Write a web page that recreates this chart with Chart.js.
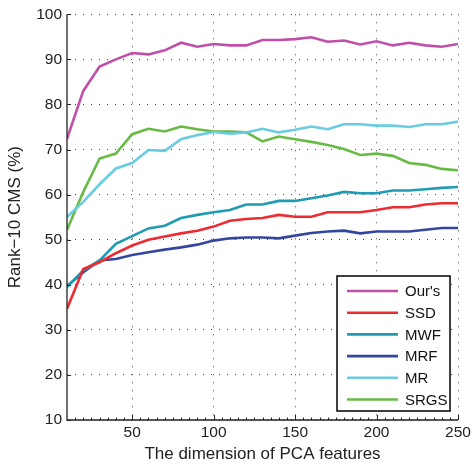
<!DOCTYPE html>
<html>
<head>
<meta charset="utf-8">
<script src="https://cdn.jsdelivr.net/npm/chart.js@4.4.0/dist/chart.umd.min.js"></script>
<style>
  html, body { margin: 0; padding: 0; background: #fff; }
  #wrap { width: 474px; height: 466px; position: relative; }
</style>
</head>
<body>
<div id="wrap"><canvas id="c"></canvas></div>
<script>
const dims = [10,20,30,40,50,60,70,80,90,100,110,120,130,140,150,160,170,180,190,200,210,220,230,240,250];
const ours = [72.4,83.0,88.4,90.0,91.4,91.1,92.0,93.7,92.8,93.4,93.1,93.1,94.3,94.3,94.5,94.9,93.9,94.2,93.3,94.0,93.1,93.7,93.1,92.8,93.4];
const ssd  = [34.7,43.5,45.0,47.0,48.7,50.0,50.7,51.4,52.0,52.9,54.2,54.6,54.8,55.5,55.1,55.1,56.1,56.1,56.1,56.6,57.2,57.2,57.8,58.1,58.1];
const mwf  = [39.5,43.2,45.4,49.1,50.8,52.5,53.1,54.8,55.5,56.1,56.6,57.8,57.8,58.6,58.6,59.2,59.8,60.6,60.3,60.3,60.9,60.9,61.2,61.5,61.7];
const mrf  = [39.7,42.8,45.4,45.7,46.6,47.2,47.8,48.3,48.9,49.8,50.3,50.5,50.5,50.3,50.9,51.5,51.8,52.0,51.4,51.8,51.8,51.8,52.2,52.6,52.6];
const mr   = [55.0,58.4,62.3,65.8,67.0,69.9,69.7,72.3,73.2,73.9,73.5,73.8,74.6,73.8,74.4,75.1,74.5,75.6,75.6,75.3,75.3,75.0,75.6,75.6,76.2];
const srgs = [52.2,60.6,68.0,69.1,73.4,74.6,74.0,75.1,74.5,74.0,74.0,73.8,71.8,72.9,72.3,71.7,71.0,70.1,68.8,69.1,68.6,67.0,66.6,65.7,65.4];

const seriesNames = ["Our's","SSD","MWF","MRF","MR","SRGS"];
const seriesColors = ['#C04FA9','#EE2B31','#1F9BB2','#3447A0','#6ACCE0','#67BB45'];
const seriesData = [ours, ssd, mwf, mrf, mr, srgs];

const xTicks = [50,100,150,200,250];
const yTicks = [10,20,30,40,50,60,70,80,90,100];
const xMinor = [15,20,25,30,35,40,45,55,60,65,70,75,80,85,90,95,105,110,115,120,125,130,135,140,145,155,160,165,170,175,180,185,190,195,205,210,215,220,225,230,235,240,245];

const FONT = "'Liberation Sans', Arial, Helvetica, sans-serif";

const datasets = seriesNames.map((n, i) => ({
  label: n,
  data: dims.map((d, j) => ({x: d, y: seriesData[i][j]})),
  borderColor: seriesColors[i],
  backgroundColor: seriesColors[i],
  borderWidth: 2.6,
  pointRadius: 0,
  tension: 0,
  fill: false
}));

const axesPlugin = {
  id: 'axesPlugin',
  afterDatasetsDraw(chart) {
    const ctx = chart.ctx;
    const xs = chart.scales.x, ys = chart.scales.y;
    const L = xs.left, R = xs.right, T = ys.top, B = ys.bottom;
    ctx.save();
    ctx.strokeStyle = '#222';
    ctx.lineWidth = 1.3;
    ctx.setLineDash([]);
    ctx.beginPath();
    ctx.moveTo(L, T); ctx.lineTo(L, B); ctx.lineTo(R, B);
    ctx.stroke();
    ctx.lineWidth = 1;
    ctx.beginPath();
    yTicks.forEach(v => { const y = Math.round(ys.getPixelForValue(v)) + 0.5; ctx.moveTo(L, y); ctx.lineTo(L + 4, y); });
    xTicks.forEach(v => { const x = Math.round(xs.getPixelForValue(v)) + 0.5; ctx.moveTo(x, B); ctx.lineTo(x, B - 5); });
    xMinor.forEach(v => { const x = Math.round(xs.getPixelForValue(v)) + 0.5; ctx.moveTo(x, B); ctx.lineTo(x, B - 2.5); });
    ctx.stroke();
    ctx.restore();
  },
  afterDraw(chart) {
    const ctx = chart.ctx;
    ctx.save();
    const bx = 337, by = 276, bw = 113, bh = 135;
    ctx.fillStyle = '#fff';
    ctx.fillRect(bx, by, bw, bh);
    ctx.strokeStyle = '#000';
    ctx.lineWidth = 1.5;
    ctx.strokeRect(bx, by, bw, bh);
    ctx.font = '15px ' + FONT;
    ctx.textBaseline = 'middle';
    ctx.textAlign = 'left';
    chart.data.datasets.forEach((ds, i) => {
      const y = by + 15 + i * 21.7;
      ctx.strokeStyle = ds.borderColor;
      ctx.lineWidth = 2.6;
      ctx.beginPath(); ctx.moveTo(347, y); ctx.lineTo(398, y); ctx.stroke();
      ctx.fillStyle = '#111';
      ctx.fillText(ds.label, 405, y + 1);
    });
    ctx.restore();
  }
};

new Chart(document.getElementById('c'), {
  type: 'line',
  data: { datasets },
  options: {
    responsive: true,
    maintainAspectRatio: false,
    animation: false,
    layout: { padding: { top: 13, right: 16, left: 0, bottom: 0 } },
    plugins: { legend: { display: false }, tooltip: { enabled: false } },
    scales: {
      x: {
        type: 'linear', min: 10, max: 250,
        afterBuildTicks: s => { s.ticks = xTicks.map(v => ({value: v})); },
        afterFit: s => { s.height = 46; },
        grid: { color: '#444', lineWidth: 1, drawTicks: false },
        border: { display: false, dash: [1, 7] },
        ticks: { color: '#222', font: { family: FONT, size: 15.5 }, padding: 3, maxRotation: 0 },
        title: { display: true, text: 'The dimension of PCA features', color: '#222', font: { family: FONT, size: 17 }, padding: { top: 0, bottom: 1 } }
      },
      y: {
        type: 'linear', min: 10, max: 100,
        afterBuildTicks: s => { s.ticks = yTicks.map(v => ({value: v})); },
        afterFit: s => { s.width = 67; },
        grid: { color: '#444', lineWidth: 1, drawTicks: false },
        border: { display: false, dash: [1, 7] },
        ticks: { color: '#222', font: { family: FONT, size: 15.5 }, padding: 5 },
        title: { display: true, text: 'Rank\u221210 CMS (%)', color: '#222', font: { family: FONT, size: 17 }, padding: { top: 5, bottom: 0 } }
      }
    }
  },
  plugins: [axesPlugin]
});
</script>
</body>
</html>
